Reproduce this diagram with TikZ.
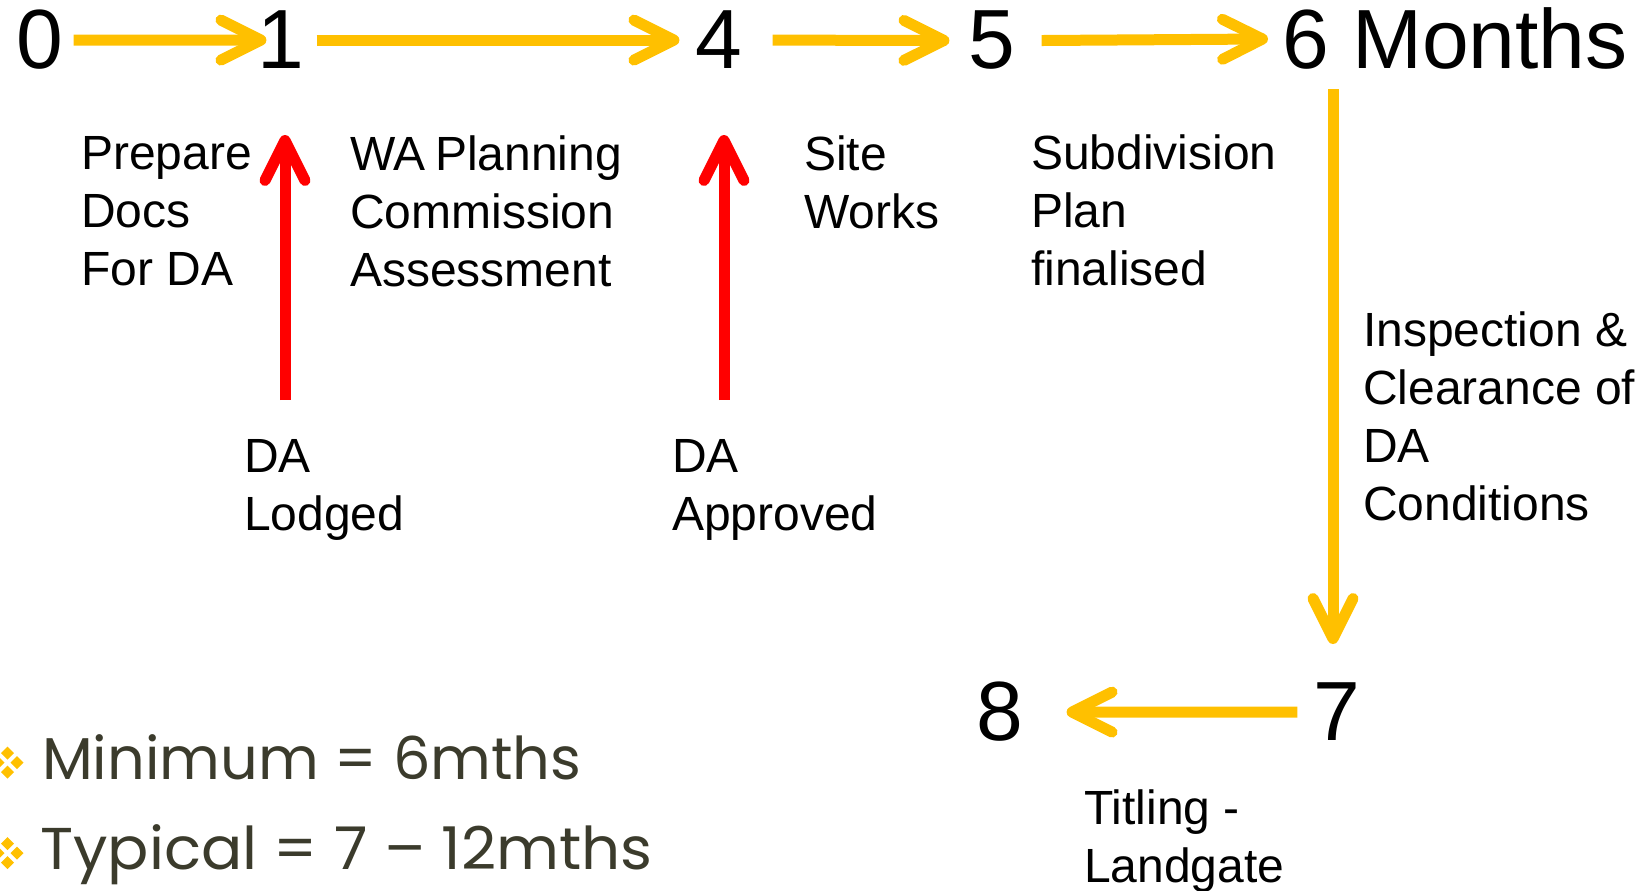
\documentclass[tikz,border=0pt]{standalone}
\usepackage{fontspec}
\setmainfont{Liberation Sans}
\newfontfamily\gothic{Poppins}
\usetikzlibrary{arrows.meta,calc}
\definecolor{gold}{HTML}{FFC000}
\definecolor{olive}{HTML}{3B3B2C}
\tikzset{
  num/.style={anchor=base, inner sep=0pt, font=\fontsize{84}{96}\selectfont},
  lbl/.style={anchor=north west, inner sep=0pt, align=left, font=\fontsize{48}{58}\selectfont},
  yarr/.style={draw=gold, line width=11pt, -{Straight Barb[length=40pt,width=40pt,round]}},
  rarr/.style={draw=red, line width=11pt, -{Straight Barb[length=40pt,width=40pt,round]}},
  bul/.style={anchor=base west, inner sep=0pt, text=olive, font=\gothic\fontsize{59}{70}\selectfont},
  dia/.style={fill=gold, draw=none}
}
\begin{document}
\begin{tikzpicture}[x=1pt,y=-1pt]
\useasboundingbox (0,0) rectangle (1646,891);
% numbers
\node[num] (n0) at (40,68) {0};
\node[num] (n1) at (281,68) {1};
\node[num] (n4) at (719,68) {4};
\node[num] (n5) at (992,68) {5};
\node[num, anchor=base west] (n6) at (1282,68) {6 Months};
\node[num] (n7) at (1337,740) {7};
\node[num] (n8) at (1000,740) {8};
% labels
\node[lbl] (prep) at (81,136) {Prepare\\Docs\\For DA};
\node[lbl] (wapc) at (350,136) {WA\hspace{-4pt} Planning\\Commission\\Assessment};
\node[lbl] (site) at (804,136) {Site\\Works};
\node[lbl] (subd) at (1031,135) {Subdivision\\Plan\\finalised};
\node[lbl] (insp) at (1363,312) {Inspection \&\\Clearance of\\DA\\Conditions};
\node[lbl] (lodg) at (244,439) {DA\\Lodged};
\node[lbl] (appr) at (672,439) {DA\\Approved};
\node[lbl] (titl) at (1084,790) {Titling -\\Landgate};
% timeline arrows
\draw[yarr] ([xshift=10pt,yshift=-1pt]n0.east) -- ([xshift=9pt,yshift=-1pt]n1.west);
\draw[yarr] ([xshift=12pt,yshift=-1pt]n1.east) -- ([xshift=-16pt,yshift=-1pt]n4.west);
\draw[yarr] ([xshift=30pt,yshift=-1pt]n4.east) -- ([xshift=-19pt,yshift=-1pt]n5.west);
\draw[yarr] ([xshift=26pt,yshift=-1pt]n5.east) -- ([xshift=-14pt,yshift=-1pt]n6.west);
\coordinate (vtop) at (1333,89);
\draw[yarr] (vtop) -- ($(n7.north)+(-4,-38)$);
\draw[yarr] ([xshift=-16pt,yshift=-1pt]n7.west) -- ([xshift=43pt,yshift=-1pt]n8.east);
% red arrows
\coordinate (r1a) at (285,400);
\coordinate (r1b) at (285,135);
\coordinate (r4a) at (724,400);
\coordinate (r4b) at (724,135);
\draw[rarr] (r1a) -- (r1b);
\draw[rarr] (r4a) -- (r4b);
% bullets
\foreach \cy in {762.5,853}{
  \foreach \dx/\dy in {0/-9.5,9.5/0,0/9.5,-9.5/0}{
    \fill[dia] (7.5+\dx,\cy+\dy-6.5) -- (7.5+\dx+6.5,\cy+\dy) -- (7.5+\dx,\cy+\dy+6.5) -- (7.5+\dx-6.5,\cy+\dy) -- cycle;
  }
}
\node[bul] (bmin) at (42,779) {Minimum = 6mths};
\node[bul] (btyp) at (40,869) {\scalebox{1.036}[1]{Typical = 7 – 12mths}};
\end{tikzpicture}
\end{document}
